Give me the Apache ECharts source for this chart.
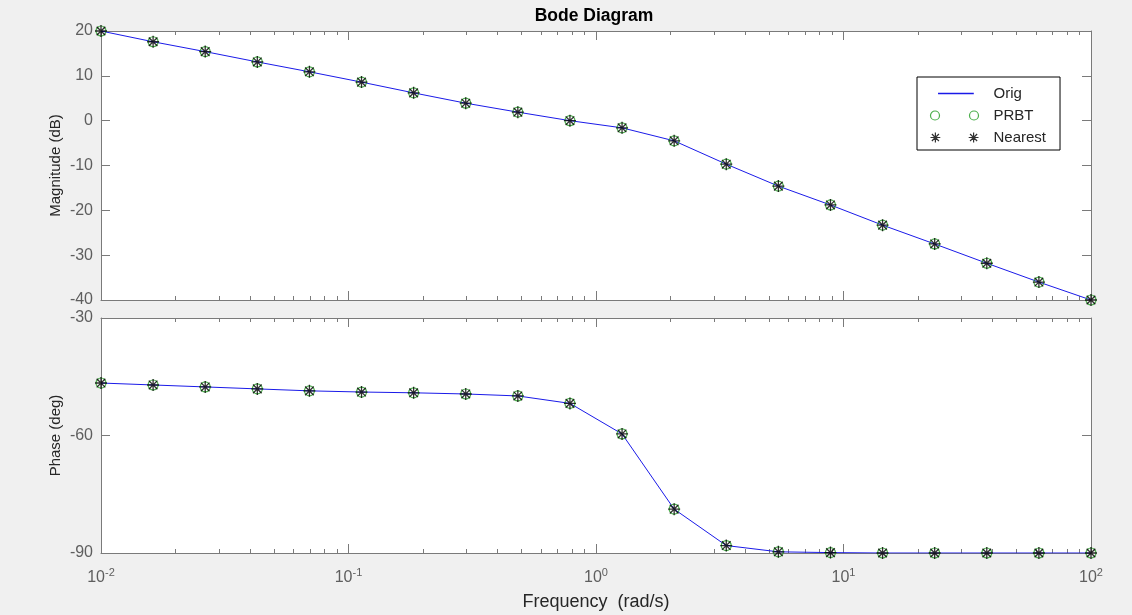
<!DOCTYPE html>
<html>
<head>
<meta charset="utf-8">
<script src="https://cdn.jsdelivr.net/npm/echarts@6/dist/echarts.min.js"></script>
<style>
  html, body { margin: 0; padding: 0; background: #f0f0f0; }
  #chart { width: 1132px; height: 615px; }
</style>
</head>
<body>
<div id="chart"></div>
<script>
// frequency grid (rad/s), 20 points log spaced 1e-2 .. 1e2
var freq = [0.01, 0.016238, 0.026367, 0.042813, 0.069519, 0.11288, 0.18330, 0.29764, 0.48329, 0.78476,
            1.2743, 2.0691, 3.3598, 5.4556, 8.8587, 14.384, 23.357, 37.927, 61.585, 100];
// magnitude (dB)
var magOrig = [20.0, 17.6, 15.4, 13.1, 10.9, 8.6, 6.2, 3.9, 1.9, 0.0,
               -1.6, -4.5, -9.7, -14.6, -18.8, -23.3, -27.5, -31.8, -36.0, -40.0];
// phase (deg)
var phaseOrig = [-46.6, -47.1, -47.6, -48.1, -48.6, -48.9, -49.1, -49.4, -49.9, -51.8,
                 -59.6, -78.8, -88.1, -89.7, -89.9, -90.0, -90.0, -90.0, -90.0, -90.0];
// reduced models sit on top of the original
var magPrbt = magOrig, phasePrbt = phaseOrig;
var magNearest = magOrig, phaseNearest = phaseOrig;

var decadeTicks = [0.01, 0.1, 1, 10, 100];
var minorTicks = [0.02, 0.03, 0.04, 0.05, 0.06, 0.07, 0.08, 0.09,
                  0.2, 0.3, 0.4, 0.5, 0.6, 0.7, 0.8, 0.9,
                  2, 3, 4, 5, 6, 7, 8, 9,
                  20, 30, 40, 50, 60, 70, 80, 90];

var axisGray = '#7a7a7a';
var labelGray = '#5e5e5e';
var fontFam = 'Arial, "Liberation Sans", sans-serif';
var blue = '#1a1ae8';
var green = '#1e9a1e';

var asterisk = 'path://M-5,0H5M0,-5V5M-3.6,-3.6L3.6,3.6M-3.6,3.6L3.6,-3.6';
var legOrig = 'path://M-8,-5M43,5M0,-0.7h38v1.4h-38z';
var legCircles = 'path://M0,0a4.5,4.5 0 1,0 9,0a4.5,4.5 0 1,0 -9,0M39,0a4.5,4.5 0 1,0 9,0a4.5,4.5 0 1,0 -9,0';
var legStars = 'path://M-5,0H5M0,-5V5M-3.6,-3.6L3.6,3.6M-3.6,3.6L3.6,-3.6M34,0H44M39,-5V5M35.4,-3.6L42.6,3.6M35.4,3.6L42.6,-3.6';

function pair(xs, ys) {
  return xs.map(function (x, i) { return [x, ys[i]]; });
}

//x轴：主刻度 + 次刻度，上下各一条
function xAxes(gridIndex, withLabels) {
  var list = [];
  ['bottom', 'top'].forEach(function (pos) {
    list.push({
      type: 'log', gridIndex: gridIndex, position: pos, min: 0.01, max: 100, logBase: 10,
      axisLine: { show: true, onZero: false, lineStyle: { color: axisGray, width: 1 } },
      axisTick: { show: true, inside: true, length: 9, customValues: decadeTicks, lineStyle: { color: axisGray } },
      axisLabel: {
        show: withLabels && pos === 'bottom', customValues: decadeTicks, margin: 14,
        formatter: function (v) {
          var e = Math.round(Math.log10(v));
          return '{b|10}{s|' + e + '}';
        },
        rich: {
          b: { fontSize: 16, lineHeight: 22, color: labelGray, fontFamily: fontFam },
          s: { fontSize: 11, lineHeight: 11, verticalAlign: 'top', color: labelGray, fontFamily: fontFam }
        }
      },
      splitLine: { show: false },
      name: (withLabels && pos === 'bottom') ? 'Frequency  (rad/s)' : '',
      nameLocation: 'middle', nameGap: 40,
      nameTextStyle: { fontSize: 18, color: '#262626', fontFamily: fontFam }
    });
    list.push({
      type: 'log', gridIndex: gridIndex, position: pos, min: 0.01, max: 100, logBase: 10,
      axisLine: { show: false, onZero: false },
      axisTick: { show: true, inside: true, length: 4, customValues: minorTicks, lineStyle: { color: axisGray } },
      axisLabel: { show: false },
      splitLine: { show: false }
    });
  });
  return list;
}

function yAxes(gridIndex, min, max, interval, name) {
  return [{
    type: 'value', gridIndex: gridIndex, position: 'left', min: min, max: max, interval: interval,
    axisLine: { show: true, onZero: false, lineStyle: { color: axisGray } },
    axisTick: { show: true, inside: true, length: 9, lineStyle: { color: axisGray } },
    axisLabel: { margin: 8, fontSize: 16, color: labelGray, fontFamily: fontFam },
    splitLine: { show: false },
    name: name, nameLocation: 'middle', nameGap: 38, nameMoveOverlap: false,
    nameTextStyle: { fontSize: 15, color: '#262626', fontFamily: fontFam }
  }, {
    type: 'value', gridIndex: gridIndex, position: 'right', min: min, max: max, interval: interval,
    axisLine: { show: true, onZero: false, lineStyle: { color: axisGray } },
    axisTick: { show: true, inside: true, length: 9, lineStyle: { color: axisGray } },
    axisLabel: { show: false },
    splitLine: { show: false }
  }];
}

function seriesFor(yIndex, xIndex, orig, prbt, nearest) {
  return [{
    name: 'Orig', type: 'line', xAxisIndex: xIndex, yAxisIndex: yIndex,
    data: pair(freq, orig), showSymbol: false, symbol: 'none',
    lineStyle: { color: blue, width: 1 }, itemStyle: { color: blue }, z: 2
  }, {
    name: 'PRBT', type: 'scatter', xAxisIndex: xIndex, yAxisIndex: yIndex,
    data: pair(freq, prbt), symbol: 'circle', symbolSize: 10,
    itemStyle: { color: 'none', borderColor: green, borderWidth: 1.2 }, z: 3
  }, {
    name: 'Nearest', type: 'scatter', xAxisIndex: xIndex, yAxisIndex: yIndex,
    data: pair(freq, nearest), symbol: asterisk, symbolSize: 12,
    itemStyle: { color: 'none', borderColor: '#000', borderWidth: 1.3 }, z: 4
  }];
}

var myChart = echarts.init(document.getElementById('chart'));

var option = {
  backgroundColor: '#f0f0f0',
  animation: false,
  title: {
    text: 'Bode Diagram', left: 589, top: 2, textAlign: 'center',
    textStyle: { fontSize: 17.5, fontWeight: 'bold', color: '#000', fontFamily: fontFam }
  },
  legend: {
    orient: 'vertical', left: 917, top: 77,
    padding: [9, 14, 5, 11], itemGap: 7, itemWidth: 48, itemHeight: 16,
    backgroundColor: '#fff', borderColor: '#000', borderWidth: 1, borderRadius: 0,
    textStyle: { fontSize: 15, color: '#262626', fontFamily: fontFam, padding: [0, 0, 0, 10] },
    data: [
      { name: 'Orig', icon: legOrig, itemStyle: { color: blue } },
      { name: 'PRBT', icon: legCircles, itemStyle: { color: 'none', borderColor: green, borderWidth: 1.2 } },
      { name: 'Nearest', icon: legStars, itemStyle: { color: 'none', borderColor: '#000', borderWidth: 1.2 } }
    ]
  },
  grid: [
    { left: 101, top: 31, width: 990, height: 269, show: true, backgroundColor: '#fff', borderWidth: 0 },
    { left: 101, top: 318, width: 990, height: 235, show: true, backgroundColor: '#fff', borderWidth: 0 }
  ],
  xAxis: xAxes(0, false).concat(xAxes(1, true)),
  yAxis: yAxes(0, -40, 20, 10, 'Magnitude (dB)').concat(yAxes(1, -90, -30, 30, 'Phase (deg)')),
  series: seriesFor(0, 0, magOrig, magPrbt, magNearest)
    .concat(seriesFor(2, 4, phaseOrig, phasePrbt, phaseNearest))
};

myChart.setOption(option);

window.addEventListener('resize', function () {
  myChart.resize();
});
</script>
</body>
</html>
